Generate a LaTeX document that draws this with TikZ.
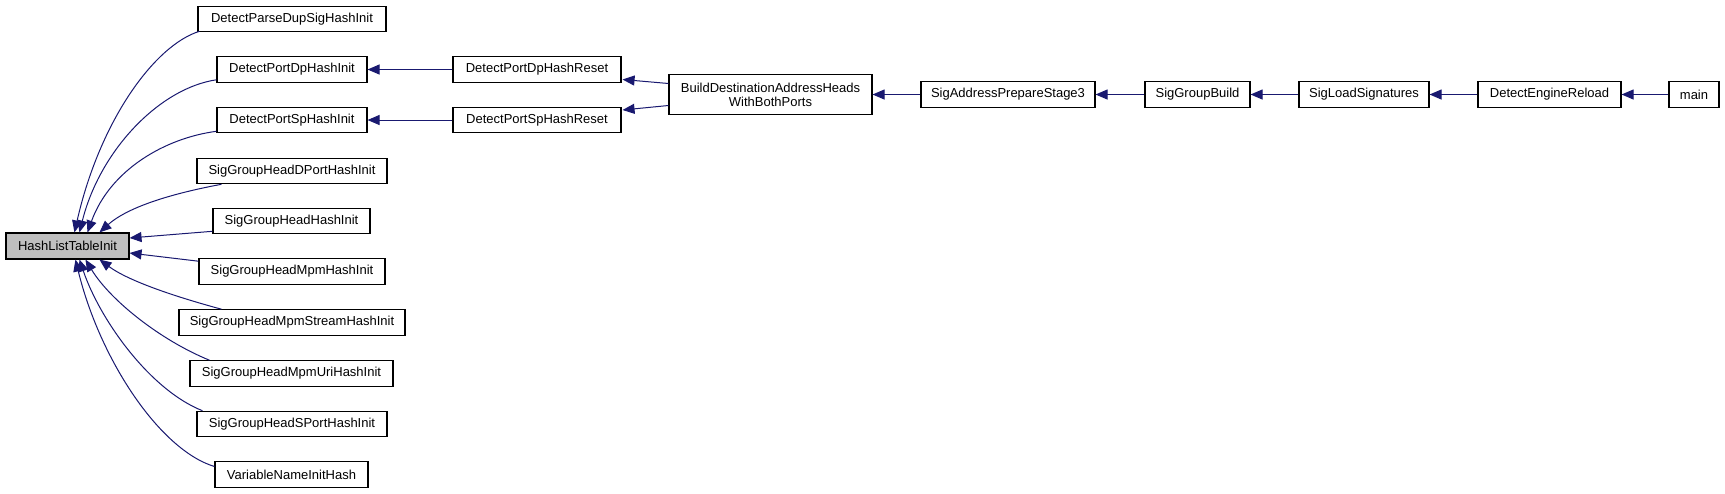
\documentclass[tikz,border=0pt]{standalone}
\usepackage{fontspec}
\setmainfont{Liberation Sans}
\usetikzlibrary{arrows.meta,calc}
\definecolor{edgeblue}{RGB}{25,25,112}
\definecolor{hlgray}{RGB}{191,191,191}
\tikzset{
  fn/.style={draw=black, line width=1.1pt, fill=white, rectangle, inner sep=0pt,
    minimum height=25.5pt, font=\fontsize{13}{14}\selectfont, align=center},
  edge/.style={draw=edgeblue, line width=1pt, -{Triangle[length=12pt,width=10pt]}}
}
\begin{document}
\begin{tikzpicture}[x=1pt,y=1pt]
\useasboundingbox (0,0) rectangle (1725,-493);
% nodes
\node[fn, fill=hlgray, minimum width=123pt, minimum height=26pt] (hl) at (67.5,-246) {HashListTableInit};
\node[fn, minimum width=188pt] (dup) at (292,-19) {DetectParseDupSigHashInit};
\node[fn, minimum width=150pt] (dpi) at (292,-69.5) {DetectPortDpHashInit};
\node[fn, minimum width=150pt] (spi) at (292,-120) {DetectPortSpHashInit};
\node[fn, minimum width=190pt] (dport) at (292,-171) {SigGroupHeadDPortHashInit};
\node[fn, minimum width=157pt] (hinit) at (291.5,-221) {SigGroupHeadHashInit};
\node[fn, minimum width=186pt] (mpm) at (292,-271.5) {SigGroupHeadMpmHashInit};
\node[fn, minimum width=226pt] (stream) at (292,-322.5) {SigGroupHeadMpmStreamHashInit};
\node[fn, minimum width=203pt] (uri) at (291.5,-373.5) {SigGroupHeadMpmUriHashInit};
\node[fn, minimum width=190pt] (sport) at (292,-424) {SigGroupHeadSPortHashInit};
\node[fn, minimum width=153pt] (var) at (291.5,-474.5) {VariableNameInitHash};
\node[fn, minimum width=168pt] (dpr) at (537,-69.5) {DetectPortDpHashReset};
\node[fn, minimum width=168pt] (spr) at (537,-120) {DetectPortSpHashReset};
\node[fn, minimum width=203pt, minimum height=40pt] (build) at (770.5,-94.5) {BuildDestinationAddressHeads\\WithBothPorts};
\node[fn, minimum width=174pt] (stage) at (1008,-94.5) {SigAddressPrepareStage3};
\node[fn, minimum width=105pt] (gb) at (1197.5,-94.5) {SigGroupBuild};
\node[fn, minimum width=130pt] (sls) at (1364,-94.5) {SigLoadSignatures};
\node[fn, minimum width=143pt] (der) at (1549.5,-94.5) {DetectEngineReload};
\node[fn, minimum width=50pt] (main) at (1694,-94.5) {main};
% fan edges into HashListTableInit
\draw[edge] ($(dup.south west)+(2,1)$) .. controls (155,-45) and (100,-120) .. ($(hl.north west)+(69,0)$);
\draw[edge] ($(dpi.south west)+(0,3)$) .. controls (160,-88) and (100,-150) .. ($(hl.north west)+(74,0)$);
\draw[edge] ($(spi.south west)+(0,2)$) .. controls (165,-138) and (110,-170) .. ($(hl.north west)+(82,0)$);
\draw[edge] ($(dport.south west)+(25,0)$) .. controls (180,-192) and (130,-205) .. ($(hl.north west)+(94,0)$);
\draw[edge] ($(hinit.south west)+(0,3)$) -- ($(hl.east)+(0,8)$);
\draw[edge] ($(mpm.north west)+(0,-3)$) -- ($(hl.east)+(0,-7)$);
\draw[edge] ($(stream.north west)+(43,0)$) .. controls (180,-298) and (130,-282) .. ($(hl.south west)+(94,0)$);
\draw[edge] ($(uri.north west)+(20,0)$) .. controls (160,-340) and (110,-300) .. ($(hl.south west)+(80,0)$);
\draw[edge] ($(sport.north west)+(6,0)$) .. controls (150,-390) and (100,-320) .. ($(hl.south west)+(74,0)$);
\draw[edge] ($(var.west)+(0,8)$) .. controls (160,-450) and (100,-360) .. ($(hl.south west)+(70,0)$);
% chain edges
\draw[edge] (dpr.west) -- (dpi.east);
\draw[edge] (spr.west) -- (spi.east);
\draw[edge] ($(build.west)+(0,11)$) -- ($(dpr.east)+(1,-10)$);
\draw[edge] ($(build.west)+(0,-11)$) -- ($(spr.east)+(1,10)$);
\draw[edge] (stage.west) -- (build.east);
\draw[edge] (gb.west) -- (stage.east);
\draw[edge] (sls.west) -- (gb.east);
\draw[edge] (der.west) -- (sls.east);
\draw[edge] (main.west) -- (der.east);
\end{tikzpicture}
\end{document}
